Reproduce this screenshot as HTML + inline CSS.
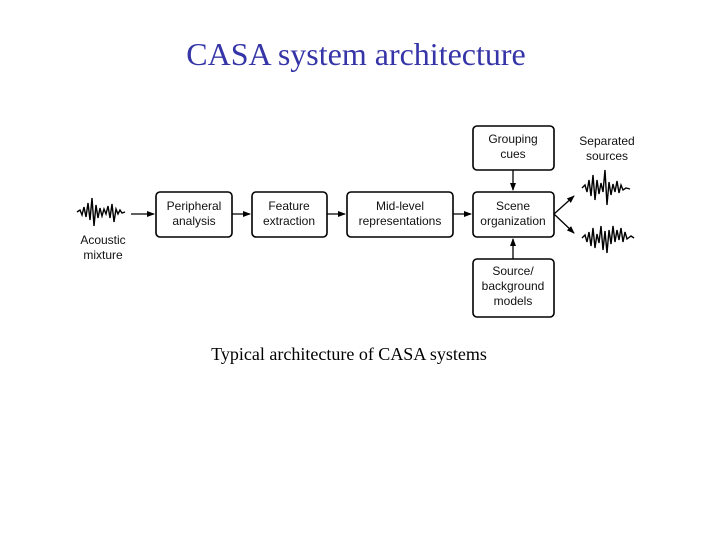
<!DOCTYPE html>
<html><head><style>
body{margin:0;width:720px;height:540px;background:#fff;position:relative;overflow:hidden}
.t{position:absolute;font-family:"Liberation Serif",serif;white-space:nowrap}
</style></head><body>
<div class="t" style="left:0;width:712px;text-align:center;top:36px;font-size:32px;color:#3535a8">CASA system architecture</div>
<div class="t" style="left:0;width:698px;text-align:center;top:344px;font-size:18px;color:#000">Typical architecture of CASA systems</div>
<svg width="720" height="540" style="position:absolute;left:0;top:0" font-family="Liberation Sans,sans-serif" font-size="12" text-anchor="middle">
<defs><marker id="a" markerWidth="8" markerHeight="8" refX="7" refY="4" orient="auto" markerUnits="userSpaceOnUse"><path d="M0,1 L8,4 L0,7z" fill="#000"/></marker></defs>
<g fill="#fff" stroke="#000" stroke-width="1.6">
<rect x="156" y="192" width="76" height="45" rx="4"/>
<rect x="252" y="192" width="75" height="45" rx="4"/>
<rect x="347" y="192" width="106" height="45" rx="4"/>
<rect x="473" y="192" width="81" height="45" rx="4"/>
<rect x="473" y="126" width="81" height="44" rx="4"/>
<rect x="473" y="259" width="81" height="58" rx="4"/>
</g>
<g stroke="#000" stroke-width="1.3" fill="none">
<line x1="131" y1="214" x2="154" y2="214" marker-end="url(#a)"/>
<line x1="232" y1="214" x2="250" y2="214" marker-end="url(#a)"/>
<line x1="327" y1="214" x2="345" y2="214" marker-end="url(#a)"/>
<line x1="453" y1="214" x2="471" y2="214" marker-end="url(#a)"/>
<line x1="513" y1="170" x2="513" y2="190" marker-end="url(#a)"/>
<line x1="513" y1="259" x2="513" y2="239" marker-end="url(#a)"/>
<line x1="554" y1="214" x2="574" y2="196" marker-end="url(#a)"/>
<line x1="554" y1="214" x2="574" y2="233" marker-end="url(#a)"/>
<polyline stroke-width="1.4" points="77,212 80,210 82,215 84,207 86,217 88,203 90,220 92,198 94,226 96,205 98,218 100,208 102,216 104,209 106,214 108,206 110,218 112,204 114,222 116,209 118,214 120,210 122,213 125,212"/>
<polyline stroke-width="1.4" points="582,188 585,185 587,192 589,180 591,196 593,175 595,200 597,180 599,194 601,183 603,192 605,170 607,205 609,182 611,195 613,184 615,192 617,181 619,193 621,185 623,190 626,188 630,189"/>
<polyline stroke-width="1.4" points="582,238 585,235 587,242 589,232 591,246 593,228 595,248 597,234 599,243 601,226 603,250 605,231 607,253 609,230 611,244 613,226 615,242 617,230 619,240 621,228 623,242 625,232 627,239 631,236 634,238"/>
</g>
<g fill="#111">
<text x="194" y="210">Peripheral</text><text x="194" y="225">analysis</text>
<text x="289" y="210">Feature</text><text x="289" y="225">extraction</text>
<text x="400" y="210">Mid-level</text><text x="400" y="225">representations</text>
<text x="513" y="210">Scene</text><text x="513" y="225">organization</text>
<text x="513" y="143">Grouping</text><text x="513" y="158">cues</text>
<text x="513" y="275">Source/</text><text x="513" y="290">background</text><text x="513" y="305">models</text>
<text x="103" y="244">Acoustic</text><text x="103" y="259">mixture</text>
<text x="607" y="145">Separated</text><text x="607" y="160">sources</text>
</g>
</svg>
</body></html>
